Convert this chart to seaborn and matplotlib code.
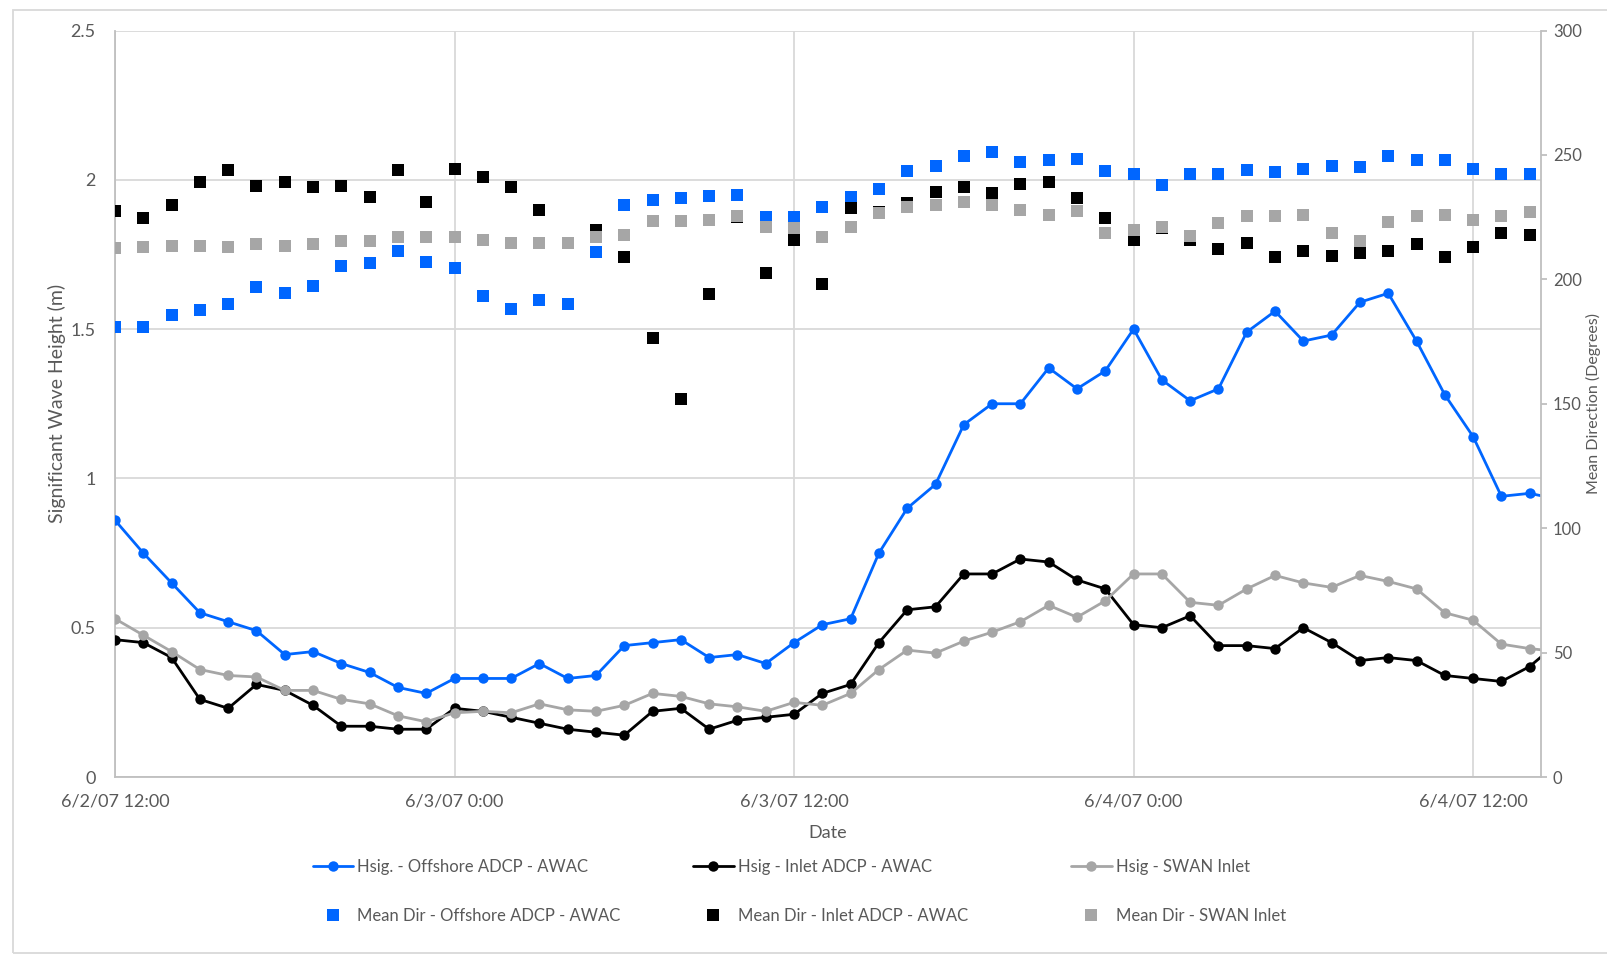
import numpy as np
import matplotlib
matplotlib.use("Agg")
import matplotlib.pyplot as plt
import seaborn as sns
from matplotlib.lines import Line2D
from matplotlib.patches import Rectangle

# ---------------------------------------------------------------
# Hourly record starting 6/2/07 12:00 (hour 0)
# ---------------------------------------------------------------
hours_hsig = np.arange(52)
hours_dir = np.arange(51)

hsig_offshore = [0.86, 0.75, 0.65, 0.55, 0.52, 0.49, 0.41, 0.42, 0.38, 0.35,
                 0.30, 0.28, 0.33, 0.33, 0.33, 0.38, 0.33, 0.34, 0.44, 0.45,
                 0.46, 0.40, 0.41, 0.38, 0.45, 0.51, 0.53, 0.75, 0.90, 0.98,
                 1.18, 1.25, 1.25, 1.37, 1.30, 1.36, 1.50, 1.33, 1.26, 1.30,
                 1.49, 1.56, 1.46, 1.48, 1.59, 1.62, 1.46, 1.28, 1.14, 0.94,
                 0.95, 0.93]
hsig_inlet = [0.46, 0.45, 0.40, 0.26, 0.23, 0.31, 0.29, 0.24, 0.17, 0.17,
              0.16, 0.16, 0.23, 0.22, 0.20, 0.18, 0.16, 0.15, 0.14, 0.22,
              0.23, 0.16, 0.19, 0.20, 0.21, 0.28, 0.31, 0.45, 0.56, 0.57,
              0.68, 0.68, 0.73, 0.72, 0.66, 0.63, 0.51, 0.50, 0.54, 0.44,
              0.44, 0.43, 0.50, 0.45, 0.39, 0.40, 0.39, 0.34, 0.33, 0.32,
              0.37, 0.45]
hsig_swan = [0.53, 0.475, 0.42, 0.36, 0.34, 0.335, 0.29, 0.29, 0.26, 0.245,
             0.205, 0.185, 0.215, 0.22, 0.215, 0.245, 0.225, 0.22, 0.24, 0.28,
             0.27, 0.245, 0.235, 0.22, 0.25, 0.24, 0.28, 0.36, 0.425, 0.415,
             0.455, 0.485, 0.52, 0.575, 0.535, 0.59, 0.68, 0.68, 0.585, 0.575,
             0.63, 0.675, 0.65, 0.635, 0.675, 0.655, 0.63, 0.55, 0.525, 0.445,
             0.43, 0.42]

dir_offshore = [181, 181, 185.5, 187.5, 190, 197, 194.5, 197.5, 205.5, 206.5,
                211.5, 207, 204.5, 193.5, 188, 191.5, 190, 211, 230, 232,
                232.5, 233.5, 234, 225, 225, 229, 233, 236.5, 243.5, 245.5,
                249.5, 251, 247, 248, 248.5, 243.5, 242.5, 238, 242.5, 242.5,
                244, 243, 244.5, 245.5, 245, 249.5, 248, 248, 244.5, 242.5,
                242.5]
dir_inlet = [227.5, 224.5, 230, 239, 244, 237.5, 239, 237, 237.5, 233,
             244, 231, 244.5, 241, 237, 228, 214.5, 220, 209, 176.5,
             152, 194, 225, 202.5, 216, 198, 228.5, 227, 230.5, 235,
             237, 234.5, 238.5, 239, 232.5, 224.5, 216, 220.5, 216, 212,
             214.5, 209, 211.5, 209.5, 210.5, 211.5, 214, 209, 213, 218.5,
             218]
dir_swan = [212.5, 213, 213.5, 213.5, 213, 214, 213.5, 214, 215.5, 215.5,
            217, 217, 217, 216, 214.5, 214.5, 214.5, 217, 218, 223.5,
            223.5, 224, 225.5, 221, 220.5, 217, 221, 226.5, 229, 230,
            231, 230, 228, 226, 227.5, 218.5, 220, 221, 217.5, 222.5,
            225.5, 225.5, 226, 218.5, 215.5, 223, 225.5, 226, 224, 225.5,
            227]

hsig_labels = ["Hsig. - Offshore ADCP - AWAC", "Hsig - Inlet ADCP - AWAC", "Hsig - SWAN Inlet"]
dir_labels = ["Mean Dir - Offshore ADCP - AWAC", "Mean Dir - Inlet ADCP - AWAC", "Mean Dir - SWAN Inlet"]

xtick_hours = [0, 12, 24, 36, 48]
xtick_labels = ["6/2/07 12:00", "6/3/07 0:00", "6/3/07 12:00", "6/4/07 0:00", "6/4/07 12:00"]
left_ticks = [0, 0.5, 1, 1.5, 2, 2.5]
left_tick_labels = ["0", "0.5", "1", "1.5", "2", "2.5"]
right_ticks = [0, 50, 100, 150, 200, 250, 300]

colors = ["#0066FF", "#000000", "#A6A6A6"]
text_color = "#595959"
grid_color = "#D9D9D9"
axis_color = "#BFBFBF"

# ---------------------------------------------------------------
sns.set_theme(style="white")
plt.rcParams["font.family"] = ["Lato", "DejaVu Sans"]

W, H = 1607, 956
fig = plt.figure(figsize=(W / 100, H / 100), dpi=100)
left, right, top, bottom = 115, 1541, 30.5, 777
ax = fig.add_axes([left / W, 1 - bottom / H, (right - left) / W, (bottom - top) / H])
ax2 = ax.twinx()

# wave height lines (primary axis)
for vals, col, lab in zip([hsig_offshore, hsig_inlet, hsig_swan], colors, hsig_labels):
    sns.lineplot(x=hours_hsig, y=vals, ax=ax, color=col, linewidth=2.0,
                 marker="o", markersize=7.5, markeredgewidth=0, legend=False,
                 label=lab, zorder=3)

# mean direction squares (secondary axis)
for vals, col, lab in zip([dir_offshore, dir_inlet, dir_swan], colors, dir_labels):
    sns.scatterplot(x=hours_dir, y=vals, ax=ax2, color=col, marker="s", s=80,
                    linewidth=0, legend=False, label=lab, zorder=3)

ax.set_xlim(0, 50.4)
ax.set_ylim(0, 2.5)
ax2.set_ylim(0, 300)

ax.set_xticks(xtick_hours)
ax.set_xticklabels(xtick_labels)
ax.set_yticks(left_ticks)
ax.set_yticklabels(left_tick_labels)
ax2.set_yticks(right_ticks)
ax2.set_yticklabels([str(t) for t in right_ticks])

ax.grid(True, color=grid_color, linewidth=1.3)
ax.set_axisbelow(True)
ax2.grid(False)

for sp in ["top", "right"]:
    ax.spines[sp].set_visible(False)
for sp in ["left", "bottom"]:
    ax.spines[sp].set_color(axis_color)
    ax.spines[sp].set_linewidth(1.3)
for sp in ["top", "left", "bottom"]:
    ax2.spines[sp].set_visible(False)
ax2.spines["right"].set_color(axis_color)
ax2.spines["right"].set_linewidth(1.3)

ax.tick_params(axis="both", length=0, labelsize=13, labelcolor=text_color)
ax.tick_params(axis="y", pad=14)
ax.tick_params(axis="x", pad=12)
ax2.tick_params(axis="y", right=True, length=4.5, width=1.3, color=axis_color,
                labelsize=12, labelcolor=text_color, pad=4)

ax.set_xlabel("Date", fontsize=13, color=text_color, labelpad=11)
ax.set_ylabel("Significant Wave Height (m)", fontsize=14, color=text_color)
ax.yaxis.set_label_coords(-(left - 66) / (right - left), 0.5)
ax2.set_ylabel("Mean Direction (Degrees)", fontsize=11.5, color=text_color)
ax2.yaxis.set_label_coords((1586 - left) / (right - left), 0.5)

# legend: three columns, line entry above square entry
col_x = [312.6, 692.8, 1071]
for col, hl, dl, x0 in zip(colors, hsig_labels, dir_labels, col_x):
    handles = [
        Line2D([], [], color=col, linewidth=2.0, marker="o", markersize=7.5,
               markeredgewidth=0, label=hl),
        Line2D([], [], color=col, linestyle="none", marker="s", markersize=8.8,
               markeredgewidth=0, label=dl),
    ]
    fig.legend(handles=handles, loc="center left",
               bbox_to_anchor=(x0 / W, 1 - 891.5 / H), frameon=False,
               borderpad=0, borderaxespad=0, handlelength=2.45,
               handletextpad=0.24, labelspacing=1.95, fontsize=12,
               labelcolor=text_color)

# chart-area border
fig.add_artist(Rectangle((13 / W, 1 - 953 / H), 1700 / W, (953 - 10) / H,
                         transform=fig.transFigure, fill=False,
                         edgecolor=grid_color, linewidth=1.3))

fig.savefig("out.png", dpi=100, facecolor="white")
